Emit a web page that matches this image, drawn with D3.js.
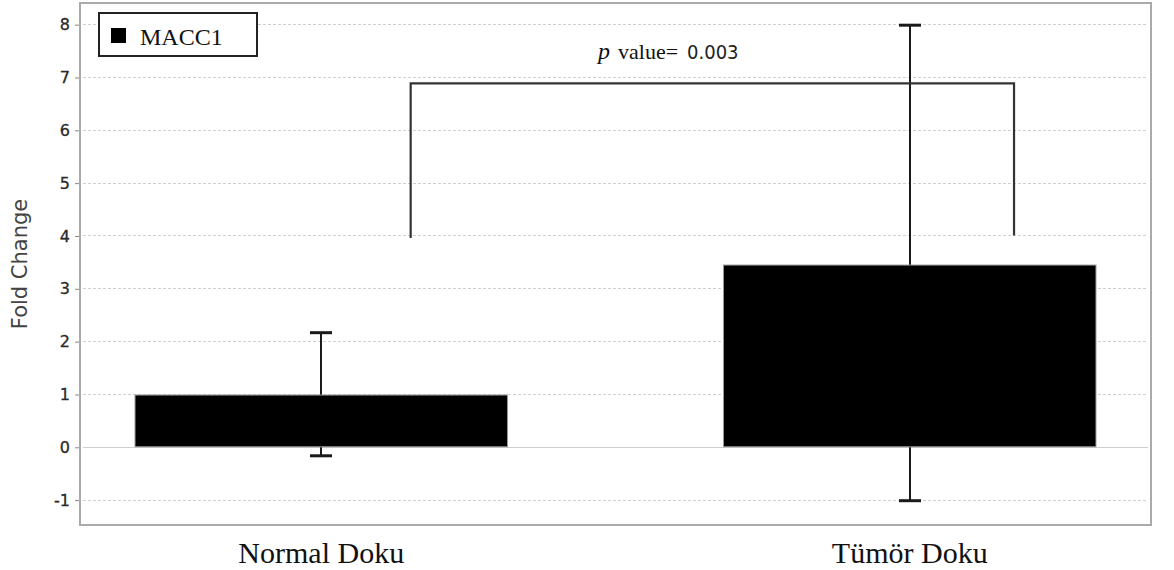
<!DOCTYPE html>
<meta charset="utf-8">
<title>MACC1 fold change</title>
<style>
*{ margin: 0; padding: 0; }
body{ background: #fff; }
.tick text{ font-family: "DejaVu Sans", sans-serif; font-size: 16px; fill: #2a2a2a; }
.grid line{ stroke: #cfcfcf; }
.serif{ font-family: "Liberation Serif", "Times New Roman", serif; fill: #111; }
</style>
<body>
<script src="https://d3js.org/d3.v7.min.js"></script>
<div id="chart"></div>
<script>

var width = 1174,
    height = 570;

var margin = {top: 3, right: 23, bottom: 45, left: 80};

// data
var categories = ["Normal Doku", "Tümör Doku"];
var means = [0.98, 3.44];
var errLow = [-0.17, -1.02];
var errHigh = [2.16, 7.98];
var yTicks = [-1, 0, 1, 2, 3, 4, 5, 6, 7, 8];
var seriesName = "MACC1";
var pText = "0.003";
// bracket: leg positions as fraction of each band, leg bottoms, top level
var bracketFrac = [0.74, 0.78];
var bracketLegs = [3.95, 4.0];
var bracketTop = 6.88;

var svg = d3.select("#chart").append("svg")
    .attr("width", width)
    .attr("height", height);

var innerW = width - margin.left - margin.right,
    innerH = height - margin.top - margin.bottom;

var x = d3.scaleBand()
    .domain(categories)
    .range([margin.left, margin.left + innerW])
    .paddingInner(0.367)
    .paddingOuter(0.0935);

var y = d3.scaleLinear()
    .domain([-1.48, 8.4])
    .range([margin.top + innerH, margin.top]);

// grid
var grid = svg.append("g").attr("class", "grid");
grid.selectAll("line")
  .data(yTicks)
  .enter().append("line")
    .attr("x1", margin.left + 3)
    .attr("x2", margin.left + innerW - 3)
    .attr("y1", function(d){ return Math.round(y(d)) + 0.5; })
    .attr("y2", function(d){ return Math.round(y(d)) + 0.5; })
    .style("stroke-dasharray", function(d){ return d == 0 ? "none" : "3,2"; });

// y axis
var yAxis = d3.axisLeft(y)
  .tickValues(yTicks)
  .tickSize(5)
  .tickPadding(5)
  .tickFormat(function(d){ return String(d); });

var gy = svg.append("g")
  .attr("transform", "translate(" + margin.left + ",0.5)")
  .call(yAxis);
gy.select(".domain").remove();
gy.selectAll(".tick line").attr("stroke", "#888");
gy.selectAll(".tick text").style("stroke", "#2a2a2a").style("stroke-width", 0.3);

// error bars (behind the bars)
var err = svg.append("g").attr("stroke", "#1a1a1a").attr("stroke-width", 2);
categories.forEach(function(c, i){
  var cx = Math.round(x(c) + x.bandwidth() / 2);
  err.append("line")
    .attr("x1", cx).attr("x2", cx)
    .attr("y1", y(errLow[i])).attr("y2", y(errHigh[i]));
  [errLow[i], errHigh[i]].forEach(function(v){
    err.append("line")
      .attr("x1", cx - 11).attr("x2", cx + 11)
      .attr("y1", y(v)).attr("y2", y(v))
      .attr("stroke-width", 3);
  });
});

// bars
svg.selectAll(".bar")
  .data(categories)
  .enter().append("rect")
    .attr("class", "bar")
    .attr("x", function(d){ return x(d); })
    .attr("width", x.bandwidth())
    .attr("y", function(d, i){ return y(means[i]); })
    .attr("height", function(d, i){ return y(0) - y(means[i]); })
    .attr("fill", "#000")
    .attr("stroke", "#999")
    .attr("stroke-width", 1);

// significance bracket
var bx = categories.map(function(c, i){ return x(c) + x.bandwidth() * bracketFrac[i]; });
svg.append("path")
  .attr("d", "M" + bx[0] + "," + y(bracketLegs[0]) +
             "V" + y(bracketTop) + "H" + bx[1] + "V" + y(bracketLegs[1]))
  .attr("fill", "none")
  .attr("stroke", "#333")
  .attr("stroke-width", 2.2);

var pLabel = svg.append("text")
  .attr("x", 598)
  .attr("y", 59);
pLabel.append("tspan").attr("class", "serif").attr("font-style", "italic").attr("font-size", 24).text("p");
pLabel.append("tspan").attr("class", "serif").attr("font-size", 22).attr("dx", 8).text("value=");
pLabel.append("tspan")
  .attr("font-family", "DejaVu Sans Condensed, DejaVu Sans, sans-serif")
  .attr("font-size", 20).attr("fill", "#222").attr("dx", 9).text(pText);

// frame
svg.append("rect")
  .attr("x", margin.left)
  .attr("y", margin.top)
  .attr("width", innerW)
  .attr("height", innerH)
  .attr("fill", "none")
  .attr("stroke", "#aaa")
  .attr("stroke-width", 2);

// legend
var leg = svg.append("g").attr("transform", "translate(99,13)");
leg.append("rect")
  .attr("width", 158).attr("height", 43)
  .attr("fill", "#fff").attr("stroke", "#222").attr("stroke-width", 2);
leg.append("rect")
  .attr("x", 12).attr("y", 15).attr("width", 15).attr("height", 15)
  .attr("fill", "#000");
leg.append("text")
  .attr("class", "serif")
  .attr("x", 41).attr("y", 32)
  .attr("font-size", 24)
  .text(seriesName);

// x labels
svg.selectAll(".xlabel")
  .data(categories)
  .enter().append("text")
    .attr("class", "serif")
    .attr("x", function(d){ return x(d) + x.bandwidth() / 2; })
    .attr("y", 563)
    .attr("text-anchor", "middle")
    .attr("font-size", 30)
    .text(function(d){ return d; });

// y title
svg.append("text")
  .attr("transform", "translate(27," + (margin.top + innerH / 2) + ") rotate(-90)")
  .attr("text-anchor", "middle")
  .attr("font-family", "DejaVu Sans, sans-serif")
  .attr("font-size", 21)
  .attr("fill", "#444")
  .text("Fold Change");

</script>
</body>
